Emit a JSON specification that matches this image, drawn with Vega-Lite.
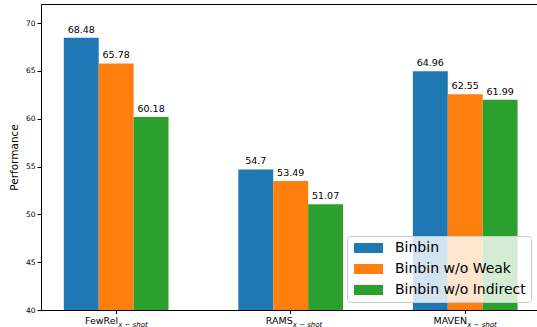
{
  "$schema": "https://vega.github.io/schema/vega-lite/v6.json",
  "width": 496,
  "height": 306,
  "autosize": {"type": "none"},
  "padding": {"left": 41, "top": 4, "right": 0, "bottom": 17},
  "background": "white",
  "config": {
    "font": "DejaVu Sans",
    "view": {"stroke": "black", "strokeWidth": 1},
    "axis": {"grid": false, "domainColor": "black", "tickColor": "black", "labelColor": "black", "titleColor": "black"}
  },
  "data": {
    "values": [
      {"cat": "FewRel", "method": "Binbin", "value": 68.48},
      {"cat": "FewRel", "method": "Binbin w/o Weak", "value": 65.78},
      {"cat": "FewRel", "method": "Binbin w/o Indirect", "value": 60.18},
      {"cat": "RAMS", "method": "Binbin", "value": 54.7},
      {"cat": "RAMS", "method": "Binbin w/o Weak", "value": 53.49},
      {"cat": "RAMS", "method": "Binbin w/o Indirect", "value": 51.07},
      {"cat": "MAVEN", "method": "Binbin", "value": 64.96},
      {"cat": "MAVEN", "method": "Binbin w/o Weak", "value": 62.55},
      {"cat": "MAVEN", "method": "Binbin w/o Indirect", "value": 61.99}
    ]
  },
  "encoding": {
    "x": {
      "field": "cat",
      "type": "nominal",
      "scale": {"domain": ["FewRel", "RAMS", "MAVEN"], "paddingInner": 0.4, "paddingOuter": 0.121, "align": 0.54},
      "axis": {"labels": false, "title": null, "tickSize": 3.5, "domain": false}
    }
  },
  "layer": [
    {
      "mark": {"type": "bar"},
      "encoding": {
        "xOffset": {"field": "method", "type": "nominal", "scale": {"domain": ["Binbin", "Binbin w/o Weak", "Binbin w/o Indirect"], "paddingInner": 0, "paddingOuter": 0}},
        "y": {
          "field": "value",
          "type": "quantitative",
          "scale": {"domain": [40, 72], "nice": false, "zero": false},
          "axis": {"values": [40, 45, 50, 55, 60, 65, 70], "labelFontSize": 7.5, "tickSize": 4, "labelPadding": 2, "title": "Performance", "titleFontSize": 10.5, "titleFontWeight": "normal", "titlePadding": 6, "domain": false}
        },
        "y2": {"datum": 40},
        "color": {
          "field": "method",
          "type": "nominal",
          "scale": {"domain": ["Binbin", "Binbin w/o Weak", "Binbin w/o Indirect"], "range": ["#1f77b4", "#ff7f0e", "#2ca02c"]},
          "legend": {
            "orient": "none",
            "legendX": 306,
            "legendY": 232,
            "title": null,
            "labelFontSize": 14,
            "labelColor": "black",
            "symbolType": "M-1,-1H4.8V1H-1Z",
            "symbolSize": 100,
            "symbolStrokeWidth": 0,
            "symbolOpacity": 1,
            "fillColor": "rgba(255,255,255,0.8)",
            "strokeColor": "#cccccc",
            "cornerRadius": 3,
            "padding": 5,
            "rowPadding": 7,
            "labelOffset": 29
          }
        }
      }
    },
    {
      "mark": {"type": "text", "baseline": "bottom", "dy": -3, "fontSize": 9.5, "color": "black"},
      "encoding": {
        "xOffset": {"field": "method", "type": "nominal", "scale": {"domain": ["Binbin", "Binbin w/o Weak", "Binbin w/o Indirect"], "paddingInner": 0, "paddingOuter": 0}},
        "y": {"field": "value", "type": "quantitative"},
        "text": {"field": "value", "type": "nominal"}
      }
    },
    {
      "data": {"values": [{"cat": "FewRel", "sub": "x − shot"}, {"cat": "RAMS", "sub": "x − shot"}, {"cat": "MAVEN", "sub": "x − shot"}]},
      "mark": {"type": "text", "y": "height", "dy": 14, "dx": 2, "align": "right", "baseline": "alphabetic", "fontSize": 9.5, "color": "black"},
      "encoding": {"text": {"field": "cat", "type": "nominal"}}
    },
    {
      "data": {"values": [{"cat": "FewRel", "sub": "x − shot"}, {"cat": "RAMS", "sub": "x − shot"}, {"cat": "MAVEN", "sub": "x − shot"}]},
      "mark": {"type": "text", "y": "height", "dy": 16.5, "dx": 2, "align": "left", "baseline": "alphabetic", "fontSize": 7, "fontStyle": "italic", "color": "black"},
      "encoding": {"text": {"field": "sub", "type": "nominal"}}
    }
  ]
}
